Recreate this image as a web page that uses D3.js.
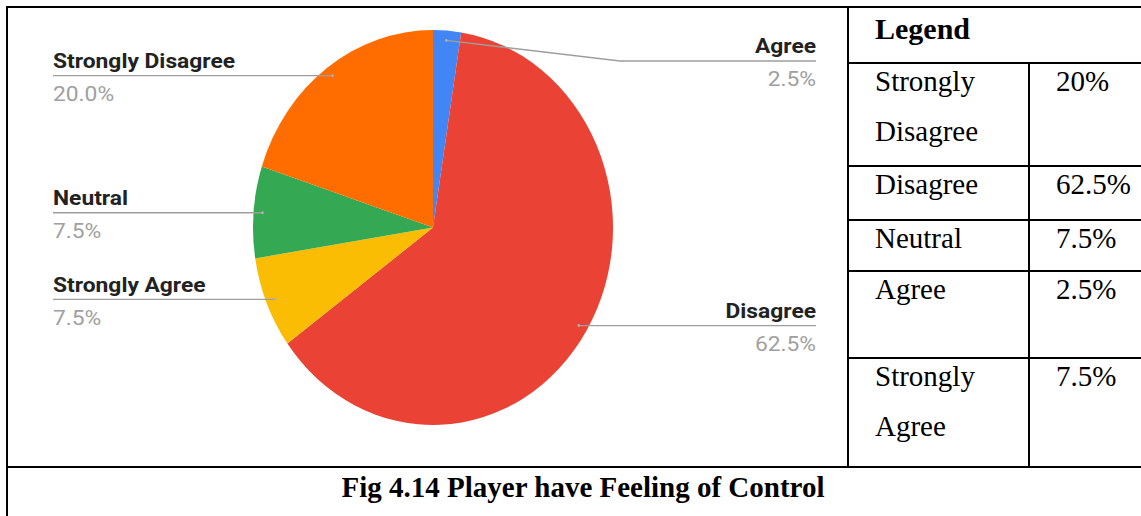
<!DOCTYPE html>
<html>
<head>
<meta charset="utf-8">
<script src="https://cdn.jsdelivr.net/npm/d3@7"></script>
<style>
  html, body { margin: 0; padding: 0; background: #fff; }
  svg { display: block; }
</style>
</head>
<body>
<svg id="fig" width="1141" height="516"></svg>
<script>
// Survey responses, in slice order (clockwise from 12 o'clock)
const categories = ["Agree", "Disagree", "Strongly Agree", "Neutral", "Strongly Disagree"];
const values = [2.5, 62.5, 7.5, 7.5, 20.0];
const sliceColors = ["#4285f4", "#ea4335", "#fbbc04", "#34a853", "#ff6d01"];

// Legend table rows (table order)
const legendTitle = "Legend";
const legendCategories = ["Strongly Disagree", "Disagree", "Neutral", "Agree", "Strongly Agree"];
const legendLines = [["Strongly", "Disagree"], ["Disagree"], ["Neutral"], ["Agree"], ["Strongly", "Agree"]];
const caption = "Fig 4.14 Player have Feeling of Control";

const W = 1141, H = 516;
const svg = d3.select("#fig");

// ---------- pie chart (drawn with a slight vertical stretch) ----------
const rx = 180, ry = 197.5, k = ry / rx;
const cx = 433, cy = 227.5 / k;
const chart = svg.append("g").attr("transform", `scale(1,${k})`);

const pie = d3.pie().sort(null).value(d => d.value);
const arcs = pie(categories.map((c, i) => ({ name: c, value: values[i], color: sliceColors[i] })));
const arc = d3.arc().innerRadius(0).outerRadius(rx);

chart.append("g")
  .attr("transform", `translate(${cx},${cy})`)
  .selectAll("path")
  .data(arcs)
  .join("path")
  .attr("d", arc)
  .attr("fill", d => d.data.color);

// leader lines + labels
const leftX = 53, rightX = 816, minLabelY = 61 / k;
const textWiden = 1.2;
const fmt = d3.format(".1f");
const labels = chart.append("g");
arcs.forEach(d => {
  const mid = (d.startAngle + d.endAngle) / 2;
  const sx = cx + 0.95 * rx * Math.sin(mid);
  const sy = cy - 0.95 * rx * Math.cos(mid);
  const right = sx > cx;
  const ly = Math.max(sy, minLabelY);
  const pts = [[sx, sy]];
  if (Math.abs(ly - sy) > 0.5) pts.push([right ? cx + rx + 7 : cx - rx - 7, ly]);
  pts.push([right ? rightX : leftX, ly]);
  labels.append("path")
    .attr("d", d3.line()(pts))
    .attr("fill", "none")
    .attr("stroke", "#9e9e9e")
    .attr("stroke-width", 1.2);
  labels.append("circle")
    .attr("cx", sx).attr("cy", sy).attr("r", 1.3)
    .attr("fill", "#b0b0b0");
  const tx = right ? rightX : leftX;
  const anchor = right ? "end" : "start";
  labels.append("text")
    .attr("transform", `translate(${tx},${ly - 7}) scale(${textWiden},1)`)
    .attr("text-anchor", anchor)
    .attr("font-family", "Roboto, sans-serif")
    .attr("font-weight", "bold")
    .attr("font-size", 19)
    .attr("fill", "#222")
    .text(d.data.name);
  labels.append("text")
    .attr("transform", `translate(${tx},${ly + 23}) scale(${textWiden},1)`)
    .attr("text-anchor", anchor)
    .attr("font-family", "Roboto, sans-serif")
    .attr("font-size", 19)
    .attr("fill", "#a0a0a0")
    .text(fmt(d.data.value) + "%");
});

// ---------- document table frame ----------
const frame = svg.append("g").attr("stroke", "#000").attr("stroke-width", 2).attr("fill", "none");
const frameLeft = 7, frameTop = 7, divX = 848, colX = 1029, capTop = 467;
const rowTops = [63, 166, 220, 271, 358];
const hl = (x1, x2, y) => frame.append("line").attr("x1", x1).attr("x2", x2).attr("y1", y).attr("y2", y);
const vl = (x, y1, y2) => frame.append("line").attr("x1", x).attr("x2", x).attr("y1", y1).attr("y2", y2);
hl(frameLeft - 1, W, frameTop);
vl(frameLeft, frameTop - 1, H);
vl(divX, frameTop, capTop);
vl(colX, rowTops[0], capTop);
rowTops.forEach(y => hl(divX, W, y));
hl(frameLeft - 1, W, capTop);

// legend table text
const serif = "'Liberation Serif', 'Times New Roman', serif";
svg.append("text")
  .attr("x", 875).attr("y", 39)
  .attr("font-family", serif).attr("font-weight", "bold").attr("font-size", 30)
  .attr("fill", "#000")
  .text(legendTitle);

const valueOf = name => values[categories.indexOf(name)];
legendCategories.forEach((name, i) => {
  const y0 = rowTops[i] + 28;
  const t = svg.append("text")
    .attr("font-family", serif).attr("font-size", 29).attr("fill", "#000");
  legendLines[i].forEach((line, j) => {
    t.append("tspan").attr("x", 875).attr("y", y0 + j * 50).text(line);
  });
  svg.append("text")
    .attr("x", 1056).attr("y", y0)
    .attr("font-family", serif).attr("font-size", 29).attr("fill", "#000")
    .text(valueOf(name) + "%");
});

// caption
svg.append("text")
  .attr("x", 583).attr("y", 497)
  .attr("text-anchor", "middle")
  .attr("font-family", serif).attr("font-weight", "bold").attr("font-size", 29)
  .attr("fill", "#000")
  .text(caption);
</script>
</body>
</html>
